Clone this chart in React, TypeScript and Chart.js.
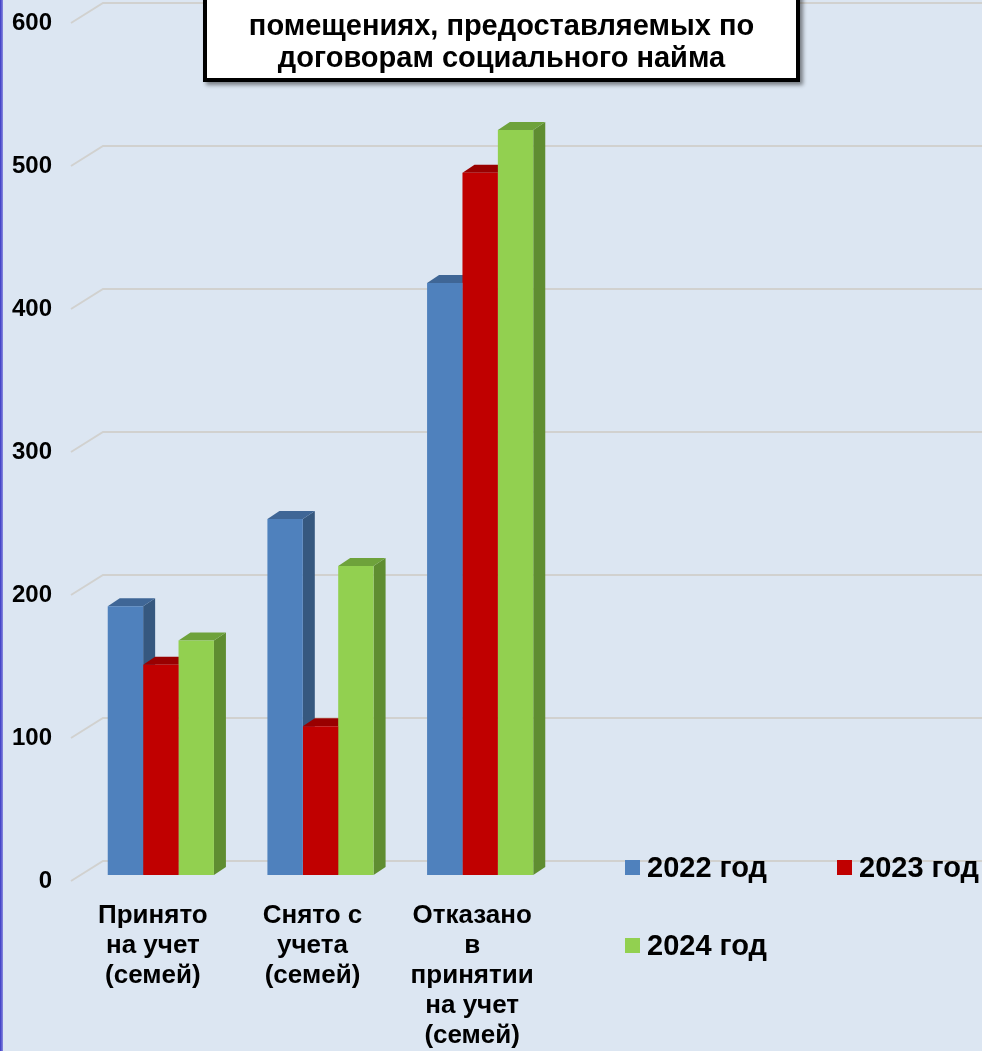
import React, { useEffect, useRef } from "react";
import { Chart, registerables } from "chart.js";

Chart.register(...registerables);

// ---- data ----
const categories: string[][] = [
  ["Принято", "на учет", "(семей)"],
  ["Снято с", "учета", "(семей)"],
  ["Отказано", "в", "принятии", "на учет", "(семей)"],
];
const seriesNames = ["2022 год", "2023 год", "2024 год"];
const values2022 = [188, 249, 414];
const values2023 = [147, 104, 491];
const values2024 = [164, 216, 521];
const yMin = 0;
const yMax = 600;
const yStep = 100;
const titleLines = [
  "Граждане, нуждающиеся в жилых",
  "помещениях, предоставляемых по",
  "договорам социального найма",
];

// ---- styles ----
const BG = "#dce6f2";
const FONT = "'Liberation Sans', Arial, sans-serif";
const frontColors = ["#4f81bd", "#c00000", "#92d050"];
const sideColors = ["#36587f", "#8c0000", "#5f8d31"];
const topColors = ["#3f6696", "#990000", "#6ea23b"];
const DX = 12;
const DY = -8;

const bar3dPlugin = {
  id: "bar3d",
  beforeDatasetsDraw(chart: any) {
    const ctx = chart.ctx;
    const area = chart.chartArea;
    const yScale = chart.scales.y;
    ctx.save();
    // 3D gridlines (wall + floor edge)
    ctx.strokeStyle = "#d1d1cf";
    ctx.lineWidth = 2;
    for (let v = yMin; v <= yMax; v += yStep) {
      const yv = yScale.getPixelForValue(v);
      ctx.beginPath();
      ctx.moveTo(area.left - 10, yv + 6);
      ctx.lineTo(area.left + 22, yv - 14);
      ctx.lineTo(chart.width, yv - 14);
      ctx.stroke();
    }
    // side and top faces
    chart.data.datasets.forEach((ds: any, di: number) => {
      const meta = chart.getDatasetMeta(di);
      meta.data.forEach((el: any) => {
        const p = el.getProps(["x", "y", "base", "width"], true);
        const l = p.x - p.width / 2;
        const r = p.x + p.width / 2;
        const t = Math.min(p.y, p.base);
        const b = Math.max(p.y, p.base);
        ctx.fillStyle = sideColors[di];
        ctx.beginPath();
        ctx.moveTo(r, t);
        ctx.lineTo(r + DX, t + DY);
        ctx.lineTo(r + DX, b + DY);
        ctx.lineTo(r, b);
        ctx.closePath();
        ctx.fill();
        ctx.fillStyle = topColors[di];
        ctx.beginPath();
        ctx.moveTo(l, t);
        ctx.lineTo(l + DX, t + DY);
        ctx.lineTo(r + DX, t + DY);
        ctx.lineTo(r, t);
        ctx.closePath();
        ctx.fill();
      });
    });
    ctx.restore();
  },
};

export default function App() {
  const canvasRef = useRef<HTMLCanvasElement | null>(null);

  useEffect(() => {
    if (!canvasRef.current) return;
    const seriesValues = [values2022, values2023, values2024];
    const chart = new Chart(canvasRef.current, {
      type: "bar",
      data: {
        labels: categories,
        datasets: seriesNames.map((name, i) => ({
          label: name,
          data: seriesValues[i],
          backgroundColor: frontColors[i],
          borderWidth: 0,
          categoryPercentage: 0.665,
          barPercentage: 1,
        })),
      },
      options: {
        responsive: false,
        animation: false,
        devicePixelRatio: 1,
        layout: { padding: { left: 12, right: 422, top: 17, bottom: 0 } },
        plugins: {
          legend: { display: false },
          title: { display: false },
          tooltip: { enabled: false },
        },
        scales: {
          x: {
            grid: { display: false, drawTicks: false },
            border: { display: false },
            ticks: {
              color: "#000",
              padding: 26,
              labelOffset: -8,
              maxRotation: 0,
              autoSkip: false,
              font: { family: FONT, weight: "bold", size: 26, lineHeight: 30 / 26 },
            },
            afterFit: (scale: any) => {
              scale.height = 176;
              scale.paddingLeft = 0;
              scale.paddingRight = 0;
            },
          },
          y: {
            min: yMin,
            max: yMax,
            grid: { display: false, drawTicks: false },
            border: { display: false },
            ticks: {
              stepSize: yStep,
              color: "#000",
              padding: 29,
              labelOffset: 6,
              font: { family: FONT, weight: "bold", size: 24 },
            },
            afterFit: (scale: any) => {
              scale.width = 69;
              scale.paddingTop = 0;
              scale.paddingBottom = 0;
            },
          },
        },
      },
      plugins: [bar3dPlugin],
    });
    return () => chart.destroy();
  }, []);

  const legendItems = [
    { left: 625, top: 867 },
    { left: 837, top: 867 },
    { left: 625, top: 945 },
  ];

  return (
    <div
      style={{
        position: "fixed",
        left: 0,
        top: 0,
        width: 982,
        height: 1051,
        background: BG,
        overflow: "hidden",
        fontFamily: FONT,
      }}
    >
      <canvas ref={canvasRef} width={982} height={1051} style={{ position: "absolute", left: 0, top: 0 }} />
      <div style={{ position: "absolute", left: 0, top: 0, width: 3, height: 1051, background: "linear-gradient(90deg,#3a3ac4,#8a8ae0)" }} />
      <div
        style={{
          position: "absolute",
          left: 203,
          top: -40,
          width: 597,
          height: 122,
          boxSizing: "border-box",
          border: "4px solid #000",
          background: "#fff",
          boxShadow: "3px 3px 4px rgba(0,0,0,0.45)",
          paddingTop: 3,
          textAlign: "center",
          fontWeight: "bold",
          fontSize: 29,
          lineHeight: "32px",
          color: "#000",
        }}
      >
        {titleLines.map((t, i) => (
          <div key={i} style={{ whiteSpace: "nowrap", marginBottom: i === 0 ? 10 : 0 }}>{t}</div>
        ))}
      </div>
      {legendItems.map((it, i) => (
        <div key={i} style={{ position: "absolute", left: it.left, top: it.top - 20, height: 40, display: "flex", alignItems: "center" }}>
          <div style={{ width: 15, height: 15, background: frontColors[i], marginRight: 7 }} />
          <span style={{ fontSize: 29, fontWeight: "bold", color: "#000", whiteSpace: "nowrap" }}>{seriesNames[i]}</span>
        </div>
      ))}
    </div>
  );
}
